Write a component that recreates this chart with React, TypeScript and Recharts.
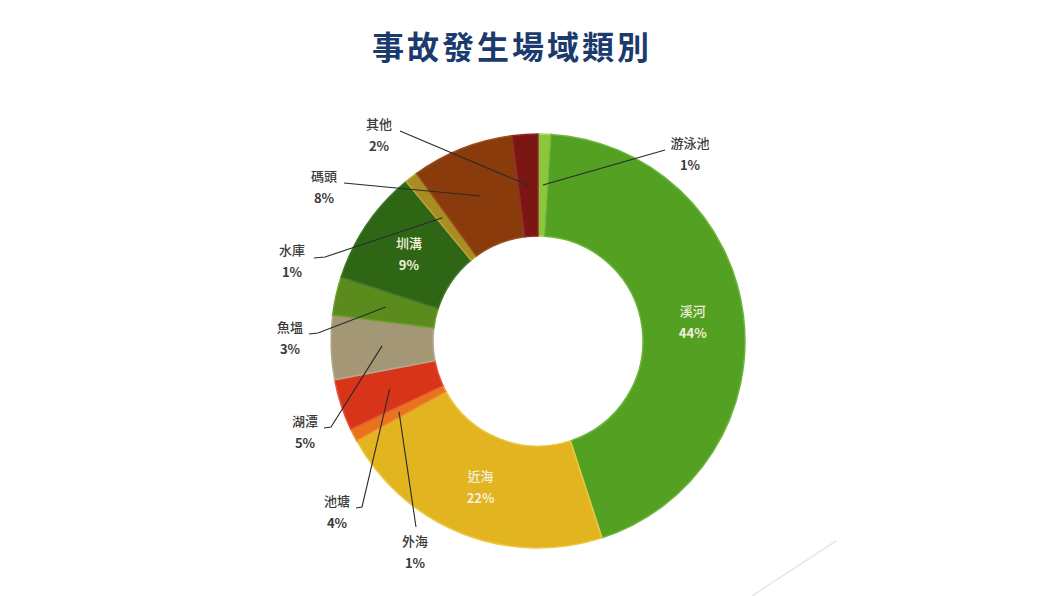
import { PieChart, Pie, Cell } from "recharts"

const categories = ["游泳池", "溪河", "近海", "外海", "池塘", "湖潭", "魚塭", "圳溝", "水庫", "碼頭", "其他"]
const shares = [1, 44, 22, 1, 4, 5, 3, 9, 1, 8, 2]
const insideLabels = ["溪河", "近海", "圳溝"]

const colors = ["#8cc63a", "#53a022", "#e2b420", "#e8731c", "#d8341a", "#a39776", "#5b8b1c", "#2f6616", "#a88e22", "#8a3b0c", "#7c1614"]
const strokes = ["#a6d65c", "#6cb63c", "#edc844", "#f08c3a", "#e45234", "#b5aa8a", "#6f9e30", "#40782a", "#bca23a", "#9c4e20", "#8e2a28"]

const data = categories.map((name, i) => ({ name, value: shares[i] }))

// label spots in page pixels: text (tx, ty), leader start (lx, ly), optional kink (kx, ky)
const outsideSpots: Record<string, { tx: number; ty: number; lx: number; ly: number; kx?: number; ky?: number }> = {
  "游泳池": { tx: 690, ty: 142, lx: 665, ly: 150 },
  "其他": { tx: 379, ty: 123, lx: 400, ly: 131 },
  "碼頭": { tx: 324, ty: 175, lx: 344, ly: 183 },
  "水庫": { tx: 292, ty: 249, lx: 314, ly: 258, kx: 325, ky: 257 },
  "魚塭": { tx: 290, ty: 326, lx: 309, ly: 334, kx: 318, ky: 333 },
  "湖潭": { tx: 305, ty: 420, lx: 324, ly: 428, kx: 331, ky: 427 },
  "池塘": { tx: 337, ty: 500, lx: 356, ly: 508, kx: 362, ky: 507 },
  "外海": { tx: 415, ty: 540, lx: 416, ly: 527 },
}

const FONT = "'Noto Sans CJK TC', 'Noto Sans', sans-serif"
const RAD = Math.PI / 180

function renderLabel(props: any) {
  const { cx, cy, midAngle, innerRadius, outerRadius, name, value } = props
  const r = (innerRadius + outerRadius) / 2
  const px = cx + r * Math.cos(-midAngle * RAD)
  const py = cy + r * Math.sin(-midAngle * RAD)

  if (insideLabels.includes(name)) {
    return (
      <g>
        <text x={px} y={py - 11} textAnchor="middle" dominantBaseline="central" fill="#f2f0dc" fontSize={13} fontWeight={500} fontFamily={FONT}>
          {name}
        </text>
        <text x={px} y={py + 11} textAnchor="middle" dominantBaseline="central" fill="#f2f0dc" fontSize={13} fontWeight={700} fontFamily={FONT}>
          {value}%
        </text>
      </g>
    )
  }

  const s = outsideSpots[name]
  if (!s) return null
  const pts = s.kx !== undefined
    ? `${s.lx},${s.ly} ${s.kx},${s.ky} ${px},${py}`
    : `${s.lx},${s.ly} ${px},${py}`
  return (
    <g>
      <polyline points={pts} fill="none" stroke="#2a2a2a" strokeWidth={1.1} />
      <text x={s.tx} y={s.ty} textAnchor="middle" dominantBaseline="central" fill="#3a3a3a" fontSize={13} fontWeight={500} fontFamily={FONT}>
        {name}
      </text>
      <text x={s.tx} y={s.ty + 22} textAnchor="middle" dominantBaseline="central" fill="#3a3a3a" fontSize={13} fontWeight={700} fontFamily={FONT}>
        {value}%
      </text>
    </g>
  )
}

export default function App() {
  return (
    <div style={{ position: "fixed", left: 0, top: 0, width: 1060, height: 596, background: "#ffffff", overflow: "hidden" }}>
      <div
        style={{
          position: "absolute",
          left: 312,
          top: 22,
          width: 400,
          textAlign: "center",
          fontFamily: FONT,
          fontSize: 32,
          fontWeight: 700,
          letterSpacing: 3,
          color: "#1b3a6e",
          lineHeight: "46px",
        }}
      >
        事故發生場域類別
      </div>
      <div style={{ position: "absolute", left: 0, top: 0 }}>
        <PieChart width={1060} height={596}>
          <Pie
            data={data}
            dataKey="value"
            nameKey="name"
            cx={533}
            cy={336}
            innerRadius={105}
            outerRadius={207}
            startAngle={90}
            endAngle={-270}
            label={renderLabel}
            labelLine={false}
            isAnimationActive={false}
          >
            {data.map((d, i) => (
              <Cell key={d.name} fill={colors[i]} stroke={strokes[i]} strokeWidth={1.5} />
            ))}
          </Pie>
          <line x1={752} y1={596} x2={836} y2={541} stroke="#e8e8e8" strokeWidth={1.5} />
        </PieChart>
      </div>
    </div>
  )
}
